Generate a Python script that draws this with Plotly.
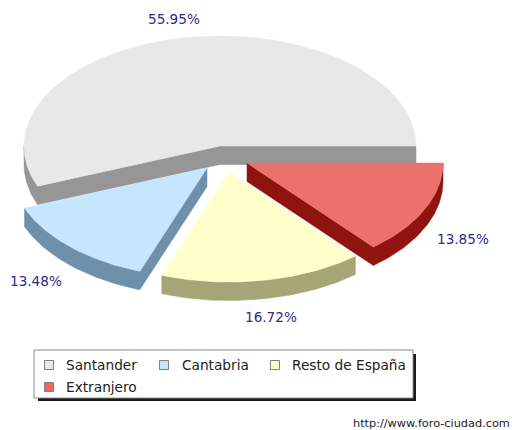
import numpy as np
import plotly.graph_objects as go

categories = ["Santander", "Cantabria", "Resto de España", "Extranjero"]
values = [55.95, 13.48, 16.72, 13.85]
percent_labels = ["55.95%", "13.48%", "16.72%", "13.85%"]

top_colors = ["#e8e8e8", "#c6e5ff", "#ffffcc", "#ea716c"]
side_colors = ["#969696", "#6e90ab", "#a5a576", "#8f1410"]
swatch_colors = ["#e8e8e8", "#c6e5ff", "#ffffcc", "#ee6660"]

apex_x = [220, 207, 229, 247]
apex_y = [146, 168, 172, 163]
label_x = [174, 36, 271, 463]
label_y = [19, 281, 317, 239]
swatch_x = [49, 164, 275, 49]
swatch_y = [365, 365, 365, 387]
legend_text_x = [64, 180, 290, 64]
draw_order = [0, 1, 2, 3]

RX, RY, DEPTH = 196, 110, 18.5
FONT = "DejaVu Sans"
LABEL_COLOR = "#2b2b8f"

edges = np.cumsum([0] + values) / sum(values) * 2 * np.pi


def outline(i):
    t = np.linspace(edges[i], edges[i + 1], max(8, int((edges[i + 1] - edges[i]) * 60)))
    x = np.concatenate([[apex_x[i]], apex_x[i] + RX * np.cos(t), [apex_x[i]]])
    y = np.concatenate([[apex_y[i]], apex_y[i] - RY * np.sin(t), [apex_y[i]]])
    return x, y


def side_faces(x, y):
    """Join runs of downward-facing edges into one polygon each."""
    sx, sy = [], []
    k = 0
    n = len(x) - 1
    while k < n:
        if x[k + 1] > x[k]:
            j = k
            while j < n and x[j + 1] > x[j]:
                j += 1
            xs = list(x[k:j + 1])
            ys = list(y[k:j + 1])
            sx += xs + xs[::-1] + [xs[0], None]
            sy += ys + [v + DEPTH for v in ys[::-1]] + [ys[0], None]
            k = j
        else:
            k += 1
    return sx, sy


fig = go.Figure()

for i in draw_order:
    x, y = outline(i)
    sx, sy = side_faces(x, y)
    fig.add_trace(go.Scatter(x=sx, y=sy, mode="lines", fill="toself", fillcolor=side_colors[i],
                             line=dict(color=side_colors[i], width=0.5), hoverinfo="skip", showlegend=False))
    fig.add_trace(go.Scatter(x=x, y=y, mode="lines", fill="toself", fillcolor=top_colors[i],
                             line=dict(color=top_colors[i], width=0.5), name=categories[i],
                             hoverinfo="name", showlegend=False))

fig.add_trace(go.Scatter(x=swatch_x, y=swatch_y, mode="markers",
                         marker=dict(symbol="square", size=9, color=swatch_colors,
                                     line=dict(color="#808080", width=1)),
                         hoverinfo="skip", showlegend=False))

annotations = []
for i in range(4):
    annotations.append(dict(x=label_x[i], y=label_y[i], text=percent_labels[i], showarrow=False,
                            xanchor="center", yanchor="middle",
                            font=dict(family=FONT, size=13.6, color=LABEL_COLOR)))
    annotations.append(dict(x=legend_text_x[i], y=swatch_y[i], text=categories[i], showarrow=False,
                            xanchor="left", yanchor="middle",
                            font=dict(family=FONT, size=13.7, color="#222222")))
annotations.append(dict(x=512, y=423, text="http://www.foro-ciudad.com", showarrow=False,
                        xanchor="right", yanchor="middle",
                        font=dict(family=FONT, size=11.3, color="#222222")))

shapes = [
    dict(type="rect", x0=38, y0=354, x1=416, y1=401, fillcolor="#1a1a1a", line=dict(width=0), layer="below"),
    dict(type="rect", x0=34, y0=350, x1=413, y1=398, fillcolor="white", line=dict(color="#8a8a8a", width=1), layer="below"),
]

fig.update_layout(
    width=512, height=430, autosize=False,
    margin=dict(l=0, r=0, t=0, b=0),
    paper_bgcolor="white", plot_bgcolor="white",
    xaxis=dict(range=[0, 512], visible=False, fixedrange=True),
    yaxis=dict(range=[430, 0], visible=False, fixedrange=True),
    annotations=annotations, shapes=shapes,
)

fig.write_html("out.html", config={"displayModeBar": False},
               post_script="document.body.style.margin='0';document.body.style.overflow='hidden';")
